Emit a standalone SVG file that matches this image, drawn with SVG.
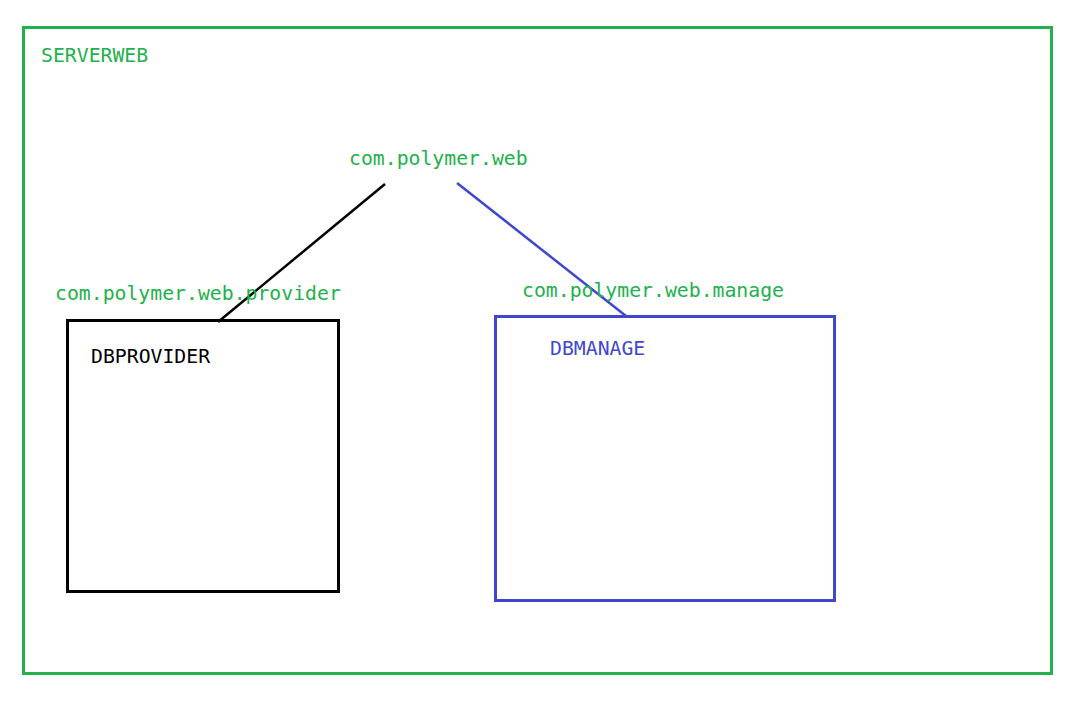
<svg xmlns="http://www.w3.org/2000/svg" width="1086" height="706" viewBox="0 0 1086 706">
<style>
text{font-family:"DejaVu Sans Mono","Liberation Mono",monospace;font-size:19.8px}
.g{fill:#22b14c}
.b{fill:#3f48cc}
.k{fill:#000}
</style>
<rect width="1086" height="706" fill="#fff"/>
<g id="serverweb">
<rect x="23.5" y="27.5" width="1028" height="646" fill="none" stroke="#22b14c" stroke-width="3"/>
<text class="g" x="41" y="62">SERVERWEB</text>
</g>
<g id="web">
<text class="g" x="349" y="165">com.polymer.web</text>
</g>
<g id="connectors">
<line x1="385" y1="184" x2="218" y2="322" stroke="#000" stroke-width="2.5"/>
<line x1="457" y1="183" x2="626" y2="316" stroke="#3f48cc" stroke-width="2.5"/>
</g>
<g id="provider">
<text class="g" x="55" y="300">com.polymer.web.provider</text>
<rect x="67.5" y="320.5" width="271" height="271" fill="none" stroke="#000" stroke-width="3"/>
<text class="k" x="91" y="363">DBPROVIDER</text>
</g>
<g id="manage">
<text class="g" x="522" y="297">com.polymer.web.manage</text>
<rect x="495.5" y="316.5" width="339" height="284" fill="none" stroke="#3f48cc" stroke-width="3"/>
<text class="b" x="550" y="355">DBMANAGE</text>
</g>
</svg>
